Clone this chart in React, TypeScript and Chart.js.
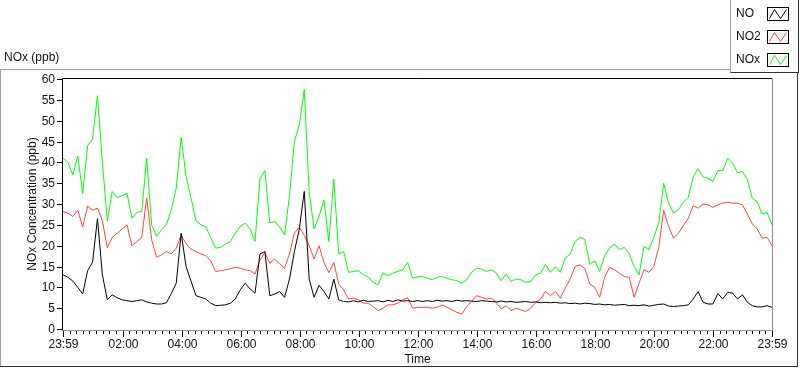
import React, { useEffect, useRef } from "react";
import { Chart, registerables } from "chart.js";

Chart.register(...registerables);

// Sample times in minutes after 23:59 (10-minute steps, 0..1440)
const timeMinutes: number[] = Array.from({ length: 145 }, (_, i) => i * 10);

const noValues: number[] = [
  13, 12.4, 11.5, 10, 8.4, 14, 16, 26.5, 13, 7, 8.2, 7.5,
  7, 6.8, 6.6, 6.8, 7, 6.5, 6.2, 6, 6, 6.3, 8.5, 11,
  23, 15, 11.5, 8, 7.6, 7.2, 6.2, 5.6, 5.7, 5.8, 6.2, 7.2,
  9.4, 11, 9.6, 8.6, 18, 18.6, 8, 8.4, 9, 7.6, 12, 18.6,
  24, 33, 12, 7.6, 10.5, 9, 7.2, 12, 7, 6.6, 6.5, 6.8,
  6.5, 6.9, 6.6, 6.7, 6.8, 6.5, 6.9, 6.6, 7, 6.7, 6.8, 6.6,
  6.8, 6.6, 6.8, 6.6, 6.9, 6.7, 6.8, 6.6, 6.9, 6.7, 6.8, 6.7,
  6.6, 6.8, 6.7, 6.6, 6.5, 6.7, 6.5, 6.6, 6.4, 6.5, 6.6, 6.4,
  6.5, 6.3, 6.4, 6.3, 6.4, 6.2, 6.3, 6.1, 6.2, 6, 6.2, 6.1,
  5.9, 6, 5.8, 5.9, 5.7, 5.8, 5.9, 5.6, 5.7, 5.6, 5.8, 5.5,
  5.7, 5.9, 6, 5.5, 5.4, 5.5, 5.6, 5.8, 7.2, 9, 6.4, 6,
  6, 8.5, 7.2, 8.8, 8.6, 7.2, 8.2, 6.4, 5.6, 5.3, 5.3, 5.6,
  5.2,
];

const no2Values: number[] = [
  28.2, 27.8, 27, 28.5, 24.5, 29.5, 28.5, 29, 26, 19.5, 22, 23,
  24, 25, 20, 21, 22, 31.5, 21.5, 17.2, 17.8, 18.6, 18, 19.4,
  22.5, 20.5, 19.2, 18.6, 18, 17.6, 16.4, 13.8, 14, 14.2, 14.5, 14.8,
  14.6, 14.2, 14, 13.2, 16.5, 18.4, 15.8, 16.8, 15.6, 14.6, 18, 23,
  24.4, 22.5, 20, 16.8, 20, 16, 13.5, 16, 10.8, 9.4, 7.2, 7.4,
  7, 6.2, 6.2, 5.4, 4.4, 5, 5.8, 5.8, 6.2, 7, 7.5, 5,
  5.2, 5.2, 5.2, 5, 5.2, 5.8, 5.2, 4.6, 4, 3.6, 5.4, 6.6,
  8, 7.6, 7.2, 7.4, 6.4, 4.8, 5.6, 4.4, 5, 4.6, 4.2, 5,
  6.4, 7.2, 9, 8, 9, 7.4, 9.8, 12, 15, 15.4, 14.5, 10.8,
  10, 7.6, 12.4, 14.8, 14.2, 13.4, 12.6, 12.4, 7.6, 11, 14.2, 13.6,
  15, 19.6, 28.5, 24.6, 21.8, 23, 24.8, 26.6, 29.6, 29, 30, 29.8,
  29.2, 29.8, 30.2, 30.4, 30.2, 30.2, 29.8, 27.6, 25.2, 24, 21.8, 22,
  20,
];

const noxValues: number[] = [
  41, 40, 37, 41.5, 32.5, 44, 45.5, 56, 40, 26, 33, 31.5,
  32, 32.6, 26.6, 28, 28.2, 41, 25, 22.2, 23.8, 25, 28.6, 33.8,
  46, 36.6, 31.5, 26, 25, 24.5, 22, 19.4, 19.6, 20.4, 21, 23,
  24.6, 25.4, 24, 21, 36, 38, 25.5, 25.8, 24.5, 22.6, 32, 45,
  49, 57.5, 33, 24, 27, 31, 21, 36, 18, 18.6, 13.6, 13.8,
  14, 13, 12.5, 11.2, 10.6, 13.5, 12.8, 13.4, 13.8, 14.2, 16, 12.2,
  12.5, 12.6, 12.2, 11.8, 12.4, 12.6, 12.2, 11.8, 11.6, 11, 11.8, 13.6,
  14.6, 14.4, 13.8, 14.2, 13.4, 11.6, 13.2, 11.4, 12, 11.8, 11.2, 11.4,
  13, 13.4, 15.5, 13.6, 15, 13.6, 17, 18, 21, 22, 21.5, 15.5,
  16.4, 13.8, 17.5, 19.4, 20.4, 19, 19.6, 18, 15, 13, 19.8, 19,
  22, 25.4, 35, 30.2, 27.8, 28.6, 30.4, 31.6, 36.5, 38.5, 36.5, 36.2,
  35.4, 38, 38, 41, 39.8, 37.5, 37.8, 35.8, 31.4, 30.5, 27.6, 28,
  25,
];

const seriesNames = ["NO", "NO2", "NOx"];
const seriesColors = ["#000000", "#ff4040", "#00ff00"];

const yTickValues = [0, 5, 10, 15, 20, 25, 30, 35, 40, 45, 50, 55, 60];
const xTickValues = [0, 121, 241, 361, 481, 601, 721, 841, 961, 1081, 1201, 1321, 1440];
const xTickLabels = ["23:59", "02:00", "04:00", "06:00", "08:00", "10:00", "12:00", "14:00", "16:00", "18:00", "20:00", "22:00", "23:59"];

const FONT = '"Liberation Sans", Arial, sans-serif';
const TEXT = "#101018";

const decorPlugin = {
  id: "decor",
  afterDraw(chart: any) {
    const ctx: CanvasRenderingContext2D = chart.ctx;
    const xs = chart.scales.x;
    const ys = chart.scales.y;
    const { left, right, top, bottom } = chart.chartArea;
    const seg = (x1: number, y1: number, x2: number, y2: number) => {
      ctx.beginPath();
      ctx.moveTo(x1, y1);
      ctx.lineTo(x2, y2);
      ctx.stroke();
    };
    ctx.save();
    ctx.lineWidth = 1;

    // outer panel frame
    ctx.strokeStyle = "#a0a0a0";
    seg(0, 69.5, 731, 69.5);
    seg(0.5, 69.5, 0.5, 366.5);
    ctx.strokeStyle = "#303030";
    seg(0, 366.5, 798, 366.5);
    seg(797.5, 73, 797.5, 367);

    // plot frame
    ctx.strokeStyle = "#000000";
    seg(left - 1, top - 0.5, right + 1, top - 0.5);
    seg(left - 0.5, top - 1, left - 0.5, bottom + 1);
    ctx.strokeStyle = "#909090";
    seg(right + 0.5, top - 1, right + 0.5, bottom + 1.5);
    seg(left - 1, bottom + 1.5, right + 1, bottom + 1.5);

    // y ticks and labels
    ctx.strokeStyle = "#000000";
    ctx.fillStyle = TEXT;
    ctx.font = "12px " + FONT;
    ctx.textAlign = "right";
    ctx.textBaseline = "middle";
    yTickValues.forEach((v) => {
      const y = Math.round(ys.getPixelForValue(v)) + 0.5;
      seg(left - 6, y, left - 1, y);
      ctx.fillText(String(v), left - 8, y);
    });

    // x ticks and labels
    ctx.textAlign = "center";
    ctx.textBaseline = "top";
    for (let i = 0; i < xTickValues.length; i++) {
      const x = Math.round(xs.getPixelForValue(xTickValues[i])) + 0.5;
      seg(x, bottom + 2, x, bottom + 8);
      ctx.fillText(xTickLabels[i], x, bottom + 10);
      if (i < xTickValues.length - 1) {
        const x0 = xs.getPixelForValue(xTickValues[i]);
        const x1 = xs.getPixelForValue(xTickValues[i + 1]);
        for (let k = 1; k < 9; k++) {
          const mx = Math.round(x0 + ((x1 - x0) * k) / 9) + 0.5;
          seg(mx, bottom + 2, mx, bottom + 5);
        }
      }
    }

    // axis titles
    ctx.textAlign = "center";
    ctx.textBaseline = "middle";
    ctx.fillText("Time", (left + right) / 2, 360);
    ctx.save();
    ctx.translate(33, (top + bottom) / 2);
    ctx.rotate(-Math.PI / 2);
    ctx.fillText("NOx Concentration (ppb)", 0, 0);
    ctx.restore();

    ctx.textAlign = "left";
    ctx.fillText("NOx (ppb)", 4, 58);

    // legend panel
    ctx.fillStyle = "#ffffff";
    ctx.fillRect(730, 0, 69, 73);
    ctx.strokeStyle = "#a0a0a0";
    seg(730.5, 0, 730.5, 72.5);
    ctx.strokeStyle = "#303030";
    seg(730.5, 72.5, 799, 72.5);
    seg(798.5, 0, 798.5, 73);
    const rowsY = [14, 37, 60];
    for (let i = 0; i < seriesNames.length; i++) {
      const cy = rowsY[i];
      ctx.fillStyle = TEXT;
      ctx.font = "12px " + FONT;
      ctx.textAlign = "left";
      ctx.textBaseline = "middle";
      ctx.fillText(seriesNames[i], 736, cy);
      const bx = 767.5, by = cy - 6.5, bw = 21, bh = 13;
      ctx.fillStyle = "#ffffff";
      ctx.fillRect(bx, by, bw, bh);
      ctx.strokeStyle = "#000000";
      ctx.strokeRect(bx, by, bw, bh);
      ctx.strokeStyle = seriesColors[i];
      ctx.beginPath();
      ctx.moveTo(bx + 2, by + bh - 2);
      ctx.lineTo(bx + 7, by + 2);
      ctx.lineTo(bx + 13, by + bh - 2);
      ctx.lineTo(bx + 19, by + 2);
      ctx.stroke();
    }
    ctx.restore();
  },
};

export default function App() {
  const canvasRef = useRef<HTMLCanvasElement | null>(null);

  useEffect(() => {
    document.body.style.margin = "0";
    const canvas = canvasRef.current;
    if (!canvas) return;
    const allValues = [noValues, no2Values, noxValues];
    const chart = new Chart(canvas, {
      type: "line",
      data: {
        datasets: seriesNames.map((name, si) => ({
          label: name,
          data: timeMinutes.map((t, i) => ({ x: t, y: allValues[si][i] })),
          borderColor: seriesColors[si],
          backgroundColor: seriesColors[si],
          borderWidth: 1,
          pointRadius: 0,
          tension: 0,
          fill: false,
        })),
      },
      options: {
        responsive: false,
        animation: false,
        maintainAspectRatio: false,
        layout: { padding: { left: 63, top: 79, right: 28, bottom: 40 } },
        plugins: { legend: { display: false }, tooltip: { enabled: false } },
        scales: {
          x: { type: "linear", min: 0, max: 1440, display: false },
          y: { type: "linear", min: 0, max: 60, display: false },
        },
      },
      plugins: [decorPlugin],
    });
    return () => chart.destroy();
  }, []);

  return (
    <div style={{ width: 800, height: 369, position: "relative", background: "#fff" }}>
      <canvas ref={canvasRef} width={800} height={369} style={{ display: "block" }} />
    </div>
  );
}
